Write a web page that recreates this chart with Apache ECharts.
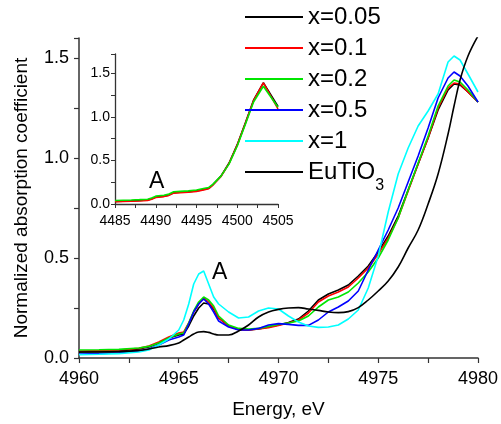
<!DOCTYPE html>
<html>
<head>
<meta charset="utf-8">
<script src="https://cdn.jsdelivr.net/npm/echarts@6/dist/echarts.min.js"></script>
<style>html,body{margin:0;padding:0;background:#fff;}#c{width:501px;height:424px;}</style>
</head>
<body>
<div id="c"></div>
<script>
// ---- Main plot data (energy in eV) ----
var energy = [4960, 4961, 4962, 4963, 4963.5, 4964, 4964.5, 4965, 4965.25, 4965.5, 4965.75, 4966, 4966.25, 4966.5, 4966.75, 4967, 4967.5, 4968, 4968.5, 4969, 4969.5, 4970, 4970.5, 4971, 4971.5, 4972, 4972.5, 4973, 4973.5, 4974, 4974.5, 4975, 4975.5, 4976, 4976.5, 4977, 4977.5, 4978, 4978.5, 4978.8, 4979.1, 4979.5, 4980];
var x005 = [0.030, 0.032, 0.035, 0.045, 0.055, 0.075, 0.100, 0.115, 0.120, 0.160, 0.210, 0.250, 0.275, 0.270, 0.245, 0.200, 0.160, 0.142, 0.140, 0.145, 0.155, 0.165, 0.178, 0.195, 0.235, 0.290, 0.320, 0.340, 0.365, 0.410, 0.460, 0.530, 0.610, 0.710, 0.840, 0.970, 1.100, 1.240, 1.340, 1.370, 1.365, 1.330, 1.280];
var x01 = [0.035, 0.037, 0.040, 0.048, 0.060, 0.080, 0.105, 0.125, 0.130, 0.175, 0.230, 0.270, 0.300, 0.280, 0.250, 0.200, 0.160, 0.142, 0.140, 0.145, 0.152, 0.163, 0.175, 0.190, 0.225, 0.280, 0.310, 0.330, 0.355, 0.400, 0.450, 0.520, 0.600, 0.700, 0.835, 0.970, 1.100, 1.250, 1.350, 1.375, 1.370, 1.330, 1.280];
var x02 = [0.040, 0.041, 0.043, 0.050, 0.058, 0.075, 0.100, 0.120, 0.125, 0.175, 0.235, 0.280, 0.305, 0.290, 0.260, 0.210, 0.165, 0.148, 0.145, 0.148, 0.158, 0.168, 0.175, 0.185, 0.210, 0.255, 0.290, 0.305, 0.330, 0.375, 0.430, 0.500, 0.590, 0.700, 0.840, 0.975, 1.110, 1.260, 1.360, 1.390, 1.380, 1.340, 1.280];
var x05 = [0.020, 0.022, 0.026, 0.035, 0.045, 0.065, 0.090, 0.105, 0.115, 0.170, 0.230, 0.270, 0.295, 0.270, 0.230, 0.185, 0.155, 0.140, 0.140, 0.148, 0.165, 0.172, 0.168, 0.163, 0.163, 0.190, 0.230, 0.255, 0.285, 0.335, 0.440, 0.540, 0.640, 0.750, 0.880, 1.010, 1.150, 1.300, 1.400, 1.430, 1.410, 1.360, 1.280];
var x1 = [0.017, 0.019, 0.022, 0.030, 0.040, 0.065, 0.095, 0.140, 0.190, 0.270, 0.370, 0.420, 0.435, 0.370, 0.305, 0.270, 0.230, 0.200, 0.205, 0.235, 0.250, 0.245, 0.210, 0.180, 0.160, 0.153, 0.155, 0.165, 0.195, 0.240, 0.350, 0.510, 0.730, 0.920, 1.050, 1.160, 1.235, 1.320, 1.480, 1.510, 1.490, 1.420, 1.330];
var eutio3 = [0.030, 0.030, 0.032, 0.038, 0.045, 0.055, 0.062, 0.075, 0.090, 0.105, 0.120, 0.130, 0.132, 0.128, 0.120, 0.115, 0.115, 0.135, 0.165, 0.205, 0.230, 0.243, 0.250, 0.252, 0.245, 0.238, 0.230, 0.227, 0.232, 0.252, 0.290, 0.335, 0.385, 0.455, 0.550, 0.640, 0.770, 0.920, 1.120, 1.260, 1.390, 1.510, 1.610];

// ---- Inset data ----
var insetEnergy = [4485, 4486, 4487, 4488, 4489, 4489.5, 4490, 4491, 4491.5, 4492.2, 4493, 4494, 4495, 4496, 4496.5, 4497, 4498, 4499, 4500, 4501, 4502, 4503.2, 4505];
var insetX005 = [0.030, 0.033, 0.036, 0.040, 0.045, 0.060, 0.080, 0.090, 0.100, 0.130, 0.135, 0.140, 0.150, 0.170, 0.180, 0.220, 0.320, 0.470, 0.680, 0.930, 1.190, 1.390, 1.120];
var insetX01 = [0.025, 0.028, 0.031, 0.035, 0.040, 0.055, 0.075, 0.085, 0.095, 0.125, 0.130, 0.135, 0.145, 0.165, 0.175, 0.215, 0.315, 0.465, 0.675, 0.925, 1.185, 1.390, 1.090];
var insetX02 = [0.040, 0.043, 0.046, 0.050, 0.055, 0.070, 0.090, 0.100, 0.110, 0.140, 0.145, 0.150, 0.160, 0.180, 0.190, 0.225, 0.320, 0.460, 0.665, 0.915, 1.170, 1.350, 1.110];

// ---- Labels ----
var seriesNames = ['x=0.05', 'x=0.1', 'x=0.2', 'x=0.5', 'x=1', 'EuTiO3'];
var seriesColors = ['#000000', '#ff0000', '#00e600', '#0000ff', '#00ffff', '#000000'];
var xTitle = 'Energy, eV';
var yTitle = 'Normalized absorption coefficient';
var peakLabel = 'A';

function pairs(xs, ys) { return xs.map(function (x, i) { return [x, ys[i]]; }); }

var mainValues = [x005, x01, x02, x05, x1, eutio3];
var insetValues = [insetX005, insetX01, insetX02];

var FONT = 'Liberation Sans, Arial, sans-serif';
var axisCol = '#333333';

var series = [];
mainValues.forEach(function (vals, i) {
  series.push({
    name: seriesNames[i], type: 'line', xAxisIndex: 0, yAxisIndex: 0,
    data: pairs(energy, vals), showSymbol: false, symbol: 'none',
    smooth: i === 5 ? 0.4 : false,
    lineStyle: { color: seriesColors[i], width: 1.6 },
    itemStyle: { color: seriesColors[i] },
    z: i === 5 ? 3 : 2,
    animation: false
  });
});
[0, 1, 2].forEach(function (k) {
  series.push({
    name: 'inset ' + seriesNames[k], type: 'line', xAxisIndex: 1, yAxisIndex: 1,
    data: pairs(insetEnergy, insetValues[k]), showSymbol: false, symbol: 'none',
    lineStyle: { color: seriesColors[k], width: 1.6 },
    itemStyle: { color: seriesColors[k] },
    z: 2 + k,
    animation: false
  });
});

function plain(v) { return String(Math.round(v)); }
function oneDec(v) { return v.toFixed(1); }

var chart = echarts.init(document.getElementById('c'), null, { renderer: 'canvas' });
chart.setOption({
  animation: false,
  backgroundColor: '#ffffff',
  legend: {
    data: seriesNames,
    orient: 'vertical',
    left: 240, top: 0,
    icon: 'rect',
    itemWidth: 58, itemHeight: 2,
    itemGap: 7,
    textStyle: {
      fontFamily: FONT, fontSize: 24, color: '#000', lineHeight: 24,
      rich: { sub: { fontFamily: FONT, fontSize: 16, color: '#000', verticalAlign: 'bottom', lineHeight: 24, padding: [0, 0, -10, 0] } }
    },
    formatter: function (n) { return n === 'EuTiO3' ? 'EuTiO{sub|3}' : n; },
    selectedMode: false,
    z: 10
  },
  grid: [
    { left: 79, top: 38, width: 400, height: 320 },
    { left: 115, top: 54, width: 163, height: 150 }
  ],
  xAxis: [
    {
      gridIndex: 0, type: 'value', min: 4960, max: 4980, interval: 5,
      name: xTitle, nameLocation: 'middle', nameGap: 42,
      nameTextStyle: { fontFamily: FONT, fontSize: 19, color: '#000' },
      axisLine: { show: true, onZero: false, lineStyle: { color: axisCol, width: 1.5 } },
      axisTick: { show: true, inside: false, length: 5, lineStyle: { color: axisCol, width: 1.2 } },
      minorTick: { show: true, splitNumber: 2, length: 5, lineStyle: { color: axisCol, width: 1.2 } },
      axisLabel: { fontFamily: FONT, fontSize: 18, color: '#000', margin: 12, formatter: plain },
      splitLine: { show: false }
    },
    {
      gridIndex: 1, type: 'value', min: 4485, max: 4505, interval: 5,
      axisLine: { show: true, onZero: false, lineStyle: { color: axisCol, width: 1.3 } },
      axisTick: { show: true, inside: false, length: 4, lineStyle: { color: axisCol } },
      minorTick: { show: true, splitNumber: 2, length: 4, lineStyle: { color: axisCol } },
      axisLabel: { fontFamily: FONT, fontSize: 14, color: '#000', margin: 10, formatter: plain },
      splitLine: { show: false }
    }
  ],
  yAxis: [
    {
      gridIndex: 0, type: 'value', min: 0, max: 1.6, interval: 0.5,
      name: yTitle, nameLocation: 'middle', nameGap: 48, nameRotate: 90,
      nameTextStyle: { fontFamily: FONT, fontSize: 19, color: '#000' },
      axisLine: { show: true, onZero: false, lineStyle: { color: axisCol, width: 1.5 } },
      axisTick: { show: true, inside: false, length: 5, lineStyle: { color: axisCol, width: 1.2 } },
      minorTick: { show: true, splitNumber: 2, length: 5, lineStyle: { color: axisCol, width: 1.2 } },
      axisLabel: { fontFamily: FONT, fontSize: 18, color: '#000', margin: 10, showMaxLabel: false, formatter: oneDec },
      splitLine: { show: false }
    },
    {
      gridIndex: 1, type: 'value', min: 0, max: 1.72, interval: 0.5,
      axisLine: { show: true, onZero: false, lineStyle: { color: axisCol, width: 1.3 } },
      axisTick: { show: true, inside: false, length: 4, lineStyle: { color: axisCol } },
      minorTick: { show: true, splitNumber: 2, length: 4, lineStyle: { color: axisCol } },
      axisLabel: { fontFamily: FONT, fontSize: 14, color: '#000', margin: 5, showMaxLabel: false, formatter: oneDec },
      splitLine: { show: false }
    }
  ],
  graphic: [
    { type: 'text', left: 212, top: 261, z: 20, style: { text: peakLabel, font: '23px ' + FONT, fill: '#000' } },
    { type: 'text', left: 149, top: 170, z: 20, style: { text: peakLabel, font: '23px ' + FONT, fill: '#000' } }
  ],
  series: series
});
</script>
</body>
</html>
